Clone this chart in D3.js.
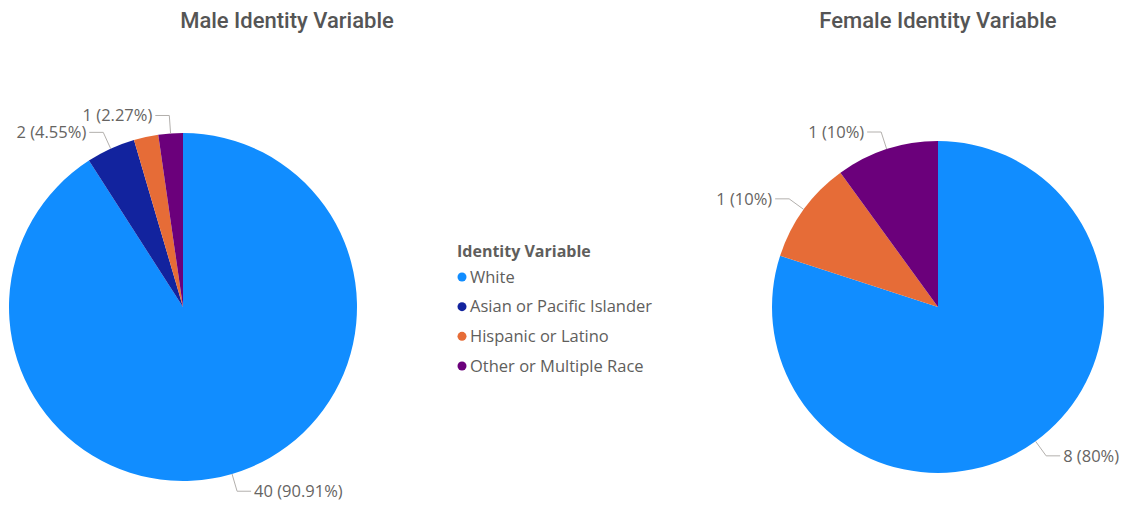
<!DOCTYPE html>
<html>
<head>
<meta charset="utf-8">
<script src="https://cdn.jsdelivr.net/npm/d3@7"></script>
<style>
  body { margin: 0; background: #fff; }
  svg text { font-family: "Segoe UI", "Open Sans", sans-serif; }
  .title { font-family: "Roboto", "DejaVu Sans", sans-serif; font-size: 22px; font-weight: 500; fill: #555555; }
  .lbl { font-size: 16.5px; fill: #666462; }
  .leg { font-size: 16.5px; fill: #605e5c; }
  .leader { fill: none; stroke: #b3b0ad; stroke-width: 1; }
</style>
</head>
<body>
<div id="chart"></div>
<script>
// categories and values
const categories = ["White", "Asian or Pacific Islander", "Hispanic or Latino", "Other or Multiple Race"];
const colors = ["#118DFF", "#12239E", "#E66C37", "#6B007B"];
const maleValues = [40, 2, 1, 1];
const femaleValues = [8, 0, 1, 1];
const legendTitle = "Identity Variable";

const width = 1131, height = 512;

const svg = d3.select("#chart")
  .append("svg")
  .attr("width", width)
  .attr("height", height);

const color = d3.scaleOrdinal().domain(categories).range(colors);

// one pie panel
function drawPie(values, title, cx, cy, r, titleX) {
  svg.append("text")
    .attr("class", "title")
    .attr("x", titleX)
    .attr("y", 28)
    .attr("text-anchor", "middle")
    .text(title);

  const total = d3.sum(values);
  const data = categories.map((c, i) => ({ cat: c, value: values[i], idx: i }));
  const pie = d3.pie().sort(null).value(d => d.value);
  const arcs = pie(data);
  const arc = d3.arc().innerRadius(0).outerRadius(r);

  const g = svg.append("g").attr("transform", `translate(${cx},${cy})`);

  g.selectAll("path")
    .data(arcs.filter(d => d.data.value > 0))
    .join("path")
    .attr("d", arc)
    .attr("fill", d => color(d.data.cat));

  // labels: biggest first, skip ones that collide with a placed label
  const fmt = v => {
    const p = Math.round(v / total * 10000) / 100;
    return `${v} (${p}%)`;
  };
  const cand = arcs.filter(d => d.data.value > 0).map(d => {
    const a = (d.startAngle + d.endAngle) / 2;
    const p0 = [Math.sin(a) * r, -Math.cos(a) * r];
    const p1 = [Math.sin(a) * (r + 18), -Math.cos(a) * (r + 18)];
    const right = p1[0] >= 0;
    return { d, a, p0, p1, right };
  }).sort((a, b) => b.d.data.value - a.d.data.value || b.d.data.idx - a.d.data.idx);

  const placed = [];
  cand.forEach(c => {
    const clash = placed.some(p => p.right === c.right && Math.abs(p.p1[1] - c.p1[1]) < 14);
    if (!clash) placed.push(c);
  });

  placed.forEach(c => {
    const dir = c.right ? 1 : -1;
    const p2 = [c.p1[0] + dir * 14, c.p1[1]];
    g.append("path")
      .attr("class", "leader")
      .attr("d", d3.line()([c.p0, c.p1, p2]));
    g.append("text")
      .attr("class", "lbl")
      .attr("x", p2[0] + dir * 3)
      .attr("y", p2[1])
      .attr("dy", "0.35em")
      .attr("text-anchor", c.right ? "start" : "end")
      .text(fmt(c.d.data.value));
  });
}

drawPie(maleValues, "Male Identity Variable", 183, 307, 174, 287);
drawPie(femaleValues, "Female Identity Variable", 938, 307, 166, 938);

// legend
const legend = svg.append("g").attr("transform", "translate(457,0)");
legend.append("text")
  .attr("class", "leg")
  .attr("x", 0)
  .attr("y", 257)
  .style("font-weight", "bold")
  .style("font-size", "16px")
  .text(legendTitle);

const ly = d3.scalePoint().domain(categories).range([277, 366]);
const items = legend.selectAll("g.item")
  .data(categories)
  .join("g")
  .attr("class", "item")
  .attr("transform", d => `translate(0,${ly(d)})`);
items.append("circle")
  .attr("cx", 5)
  .attr("cy", 0)
  .attr("r", 4.5)
  .attr("fill", d => color(d));
items.append("text")
  .attr("class", "leg")
  .attr("x", 13)
  .attr("y", 0)
  .attr("dy", "0.35em")
  .text(d => d);
</script>
</body>
</html>
